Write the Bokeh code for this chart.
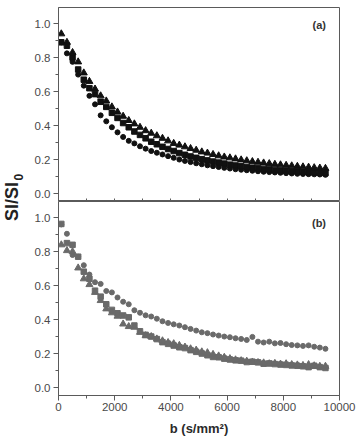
from math import pi
from bokeh.plotting import figure
from bokeh.models import Range1d, SingleIntervalTicker, FixedTicker, Label, PrintfTickFormatter
from bokeh.layouts import row, column
from bokeh.embed import file_html
from bokeh.resources import INLINE

# ---------------- data ----------------
b_values = [100, 300, 500, 700, 900, 1100, 1300, 1500, 1700, 1900, 2100, 2300,
            2500, 2700, 2900, 3100, 3300, 3500, 3700, 3900, 4100, 4300, 4500, 4700,
            4900, 5100, 5300, 5500, 5700, 5900, 6100, 6300, 6500, 6700, 6900, 7100,
            7300, 7500, 7700, 7900, 8100, 8300, 8500, 8700, 8900, 9100, 9300, 9500]

# panel (a)
a_triangles = [0.94, 0.89, 0.83, 0.775, 0.71, 0.66, 0.615, 0.575, 0.545, 0.51, 0.48, 0.455,
               0.43, 0.41, 0.39, 0.37, 0.355, 0.34, 0.325, 0.31, 0.295, 0.285, 0.275, 0.265,
               0.255, 0.245, 0.238, 0.23, 0.222, 0.215, 0.21, 0.204, 0.198, 0.193, 0.188, 0.184,
               0.18, 0.176, 0.172, 0.169, 0.166, 0.163, 0.16, 0.157, 0.155, 0.152, 0.15, 0.148]
a_squares = [0.89, 0.87, 0.80, 0.73, 0.67, 0.62, 0.585, 0.54, 0.51, 0.475, 0.445, 0.415,
             0.39, 0.365, 0.345, 0.325, 0.305, 0.29, 0.275, 0.262, 0.25, 0.238, 0.228, 0.218,
             0.21, 0.202, 0.195, 0.188, 0.182, 0.176, 0.17, 0.165, 0.16, 0.156, 0.152, 0.148,
             0.145, 0.142, 0.139, 0.136, 0.134, 0.132, 0.13, 0.128, 0.126, 0.124, 0.122, 0.12]
a_circles = [0.89, 0.825, 0.775, 0.70, 0.635, 0.575, 0.525, 0.46, 0.425, 0.39, 0.36, 0.333,
             0.31, 0.295, 0.278, 0.264, 0.25, 0.24, 0.23, 0.22, 0.21, 0.2, 0.192, 0.185,
             0.178, 0.172, 0.166, 0.161, 0.156, 0.151, 0.147, 0.143, 0.14, 0.137, 0.134, 0.131,
             0.128, 0.126, 0.124, 0.122, 0.12, 0.118, 0.116, 0.115, 0.114, 0.113, 0.112, 0.11]

# panel (b)
b_circles = [0.96, 0.905, 0.78, 0.77, 0.72, 0.665, 0.62, 0.61, 0.568, 0.56, 0.53, 0.505,
             0.49, 0.455, 0.44, 0.425, 0.418, 0.405, 0.39, 0.38, 0.372, 0.365, 0.355, 0.345,
             0.335, 0.325, 0.32, 0.312, 0.306, 0.3, 0.296, 0.29, 0.286, 0.28, 0.298, 0.27,
             0.265, 0.27, 0.26, 0.262, 0.255, 0.25, 0.248, 0.245, 0.248, 0.24, 0.235, 0.228]
b_squares = [0.963, 0.85, 0.84, 0.77, 0.682, 0.64, 0.57, 0.535, 0.49, 0.457, 0.437, 0.424,
             0.413, 0.365, 0.331, 0.31, 0.3, 0.285, 0.267, 0.257, 0.247, 0.237, 0.232, 0.22,
             0.21, 0.2, 0.19, 0.18, 0.178, 0.17, 0.165, 0.16, 0.158, 0.15, 0.152, 0.148,
             0.14, 0.142, 0.138, 0.135, 0.133, 0.13, 0.128, 0.125, 0.12, 0.128, 0.12, 0.115]
b_triangles = [0.84, 0.806, 0.80, 0.704, 0.64, 0.606, 0.56, 0.512, 0.463, 0.44, 0.42, 0.374,
               0.359, 0.355, 0.325, 0.305, 0.3, 0.286, 0.275, 0.265, 0.258, 0.248, 0.238, 0.228,
               0.22, 0.21, 0.205, 0.195, 0.186, 0.178, 0.17, 0.163, 0.158, 0.155, 0.15, 0.147,
               0.145, 0.14, 0.142, 0.138, 0.14, 0.135, 0.133, 0.13, 0.135, 0.128, 0.125, 0.125]

y_title = "SI/SI"
y_title_sub = "0"
x_title = "b (s/mm\u00b2)"
panel_labels = ["(a)", "(b)"]
inner_x_ticks = [1000, 2000, 3000, 4000, 5000, 6000, 7000, 8000, 9000]

# ---------------- style ----------------
FONT = "Liberation Sans"
AXC = "#5a5a5a"
TXT = "#4a4a4a"
X_RANGE = (0, 10000)
Y_RANGE = (-0.047, 1.095)


def make_panel(top_border, bottom_border, show_x_labels):
    p = figure(frame_width=281, frame_height=194,
               x_range=Range1d(*X_RANGE), y_range=Range1d(*Y_RANGE),
               toolbar_location=None, output_backend="svg",
               min_border_left=32, min_border_right=19,
               min_border_top=top_border, min_border_bottom=bottom_border)
    p.grid.visible = False
    p.outline_line_color = AXC
    p.outline_line_width = 1
    p.background_fill_color = "white"
    p.border_fill_color = "white"

    yax = p.yaxis[0]
    yax.ticker = SingleIntervalTicker(interval=0.2, num_minor_ticks=2)
    yax.formatter = PrintfTickFormatter(format="%.1f")
    yax.axis_line_color = AXC
    yax.major_tick_line_color = AXC
    yax.minor_tick_line_color = AXC
    yax.major_tick_out = 5
    yax.major_tick_in = 0
    yax.minor_tick_out = 3
    yax.minor_tick_in = 0
    yax.major_label_text_font = FONT
    yax.major_label_text_font_size = "11.5px"
    yax.major_label_text_color = TXT
    yax.major_label_standoff = 3

    xax = p.xaxis[0]
    xax.axis_line_color = AXC
    xax.major_tick_line_color = AXC
    xax.minor_tick_line_color = AXC
    if show_x_labels:
        xax.ticker = SingleIntervalTicker(interval=2000, num_minor_ticks=2)
        xax.major_tick_out = 5
        xax.major_tick_in = 0
        xax.minor_tick_out = 3
        xax.minor_tick_in = 0
        xax.major_label_text_font = FONT
        xax.major_label_text_font_size = "11.5px"
        xax.major_label_text_color = TXT
        xax.major_label_standoff = 2
        xax.axis_label = x_title
        xax.axis_label_text_font = FONT
        xax.axis_label_text_font_style = "bold"
        xax.axis_label_text_font_size = "13px"
        xax.axis_label_text_color = "#2a2a2a"
        xax.axis_label_standoff = 7
    else:
        xax.ticker = FixedTicker(ticks=[], minor_ticks=inner_x_ticks)
        xax.major_tick_out = 0
        xax.major_tick_in = 0
        xax.minor_tick_out = 0
        xax.minor_tick_in = 3
    return p


pa = make_panel(7, 0, False)
pb = make_panel(0, 40, True)

BLACK = "#111111"
GREY = "#6a6a6a"

pa.scatter(b_values, a_circles, marker="circle", size=5, color=BLACK)
pa.scatter(b_values, a_squares, marker="square", size=5.5, color=BLACK)
pa.scatter(b_values, a_triangles, marker="triangle", size=7, color=BLACK)

pb.scatter(b_values, b_circles, marker="circle", size=5, color=GREY)
pb.scatter(b_values, b_squares, marker="square", size=5.5, color=GREY)
pb.scatter(b_values, b_triangles, marker="triangle", size=7, color=GREY)

pa.add_layout(Label(x=9520, y=0.99, text=panel_labels[0], text_align="right",
                    text_baseline="middle", text_font=FONT, text_font_style="bold",
                    text_font_size="11px", text_color="#333333"))
pb.add_layout(Label(x=9520, y=0.97, text=panel_labels[1], text_align="right",
                    text_baseline="middle", text_font=FONT, text_font_style="bold",
                    text_font_size="11px", text_color="#333333"))

# y title column
lf = figure(width=26, height=438, x_range=Range1d(0, 26), y_range=Range1d(0, 438),
            toolbar_location=None, output_backend="svg",
            min_border=0, min_border_left=0, min_border_right=0,
            min_border_top=0, min_border_bottom=0)
lf.axis.visible = False
lf.grid.visible = False
lf.outline_line_color = None
lf.border_fill_color = "white"
lf.background_fill_color = "white"
lf.add_layout(Label(x=11, y=237, text=y_title, angle=pi / 2, text_align="center",
                    text_baseline="middle", text_font=FONT, text_font_style="bold",
                    text_font_size="18px", text_color="#222222"))
lf.add_layout(Label(x=18, y=258, text=y_title_sub, angle=pi / 2, text_align="left",
                    text_baseline="middle", text_font=FONT, text_font_style="bold",
                    text_font_size="12px", text_color="#222222"))

layout = row(lf, column(pa, pb, spacing=0), spacing=0)

open("out.html", "w").write(file_html(layout, INLINE))
